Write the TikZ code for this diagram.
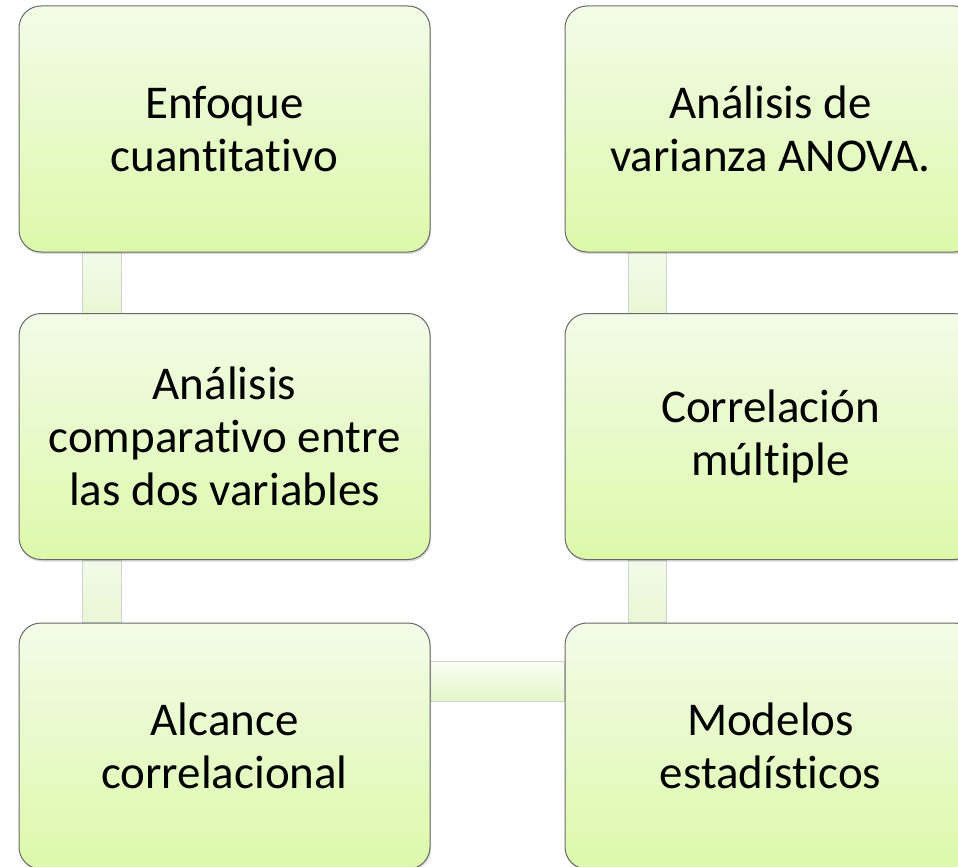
\documentclass[tikz,border=0pt]{standalone}
\usepackage{fontspec}
\setmainfont{Carlito}[Ligatures={NoCommon}]
\usetikzlibrary{shadows,backgrounds,calc}
\definecolor{gtop}{RGB}{243,251,232}
\definecolor{gbot}{RGB}{220,249,170}
\definecolor{ctop}{RGB}{242,251,233}
\definecolor{cbot}{RGB}{232,247,212}
\definecolor{htop}{RGB}{251,254,245}
\definecolor{hbot}{RGB}{226,246,200}
\definecolor{edge}{RGB}{105,105,105}
\begin{document}
\begin{tikzpicture}[x=1pt,y=1pt,
  box/.style={draw=edge, line width=1pt, rounded corners=22pt,
    minimum width=411pt, minimum height=246pt, inner sep=0pt,
    top color=gtop, bottom color=gbot, align=center,
    font=\fontsize{47}{53}\selectfont,
    drop shadow={opacity=0.3, shadow xshift=1pt, shadow yshift=-2pt}},
  vconn/.style={draw=black!18, line width=1pt, top color=ctop, bottom color=cbot},
  hconn/.style={draw=black!18, line width=1pt, top color=htop, bottom color=hbot}]
\useasboundingbox (0,0) rectangle (958,-867);
\clip (0,0) rectangle (958,-867);
\node[box] (b1) at (224.5,-129) {Enfoque\\cuantitativo};
\node[box] (b2) at (224.5,-436.5) {Análisis\\comparativo entre\\las dos variables};
\node[box] (b3) at (224.5,-746) {Alcance\\correlacional};
\node[box] (b4) at (770.5,-129) {Análisis de\\varianza ANOVA.};
\node[box] (b5) at (770.5,-436.5) {Correlación\\múltiple};
\node[box] (b6) at (770.5,-746) {Modelos\\estadísticos};
\begin{pgfonlayer}{background}
\path[vconn] ($(b1.south west)+(64,0)$) rectangle ($(b2.north west)+(103,0)$);
\path[vconn] ($(b2.south west)+(64,0)$) rectangle ($(b3.north west)+(103,0)$);
\path[vconn] ($(b4.south west)+(64,0)$) rectangle ($(b5.north west)+(102,0)$);
\path[vconn] ($(b5.south west)+(64,0)$) rectangle ($(b6.north west)+(102,0)$);
\path[hconn] ($(b3.north east)+(0,-39)$) rectangle ($(b6.north west)+(0,-79)$);
\end{pgfonlayer}
\end{tikzpicture}
\end{document}
